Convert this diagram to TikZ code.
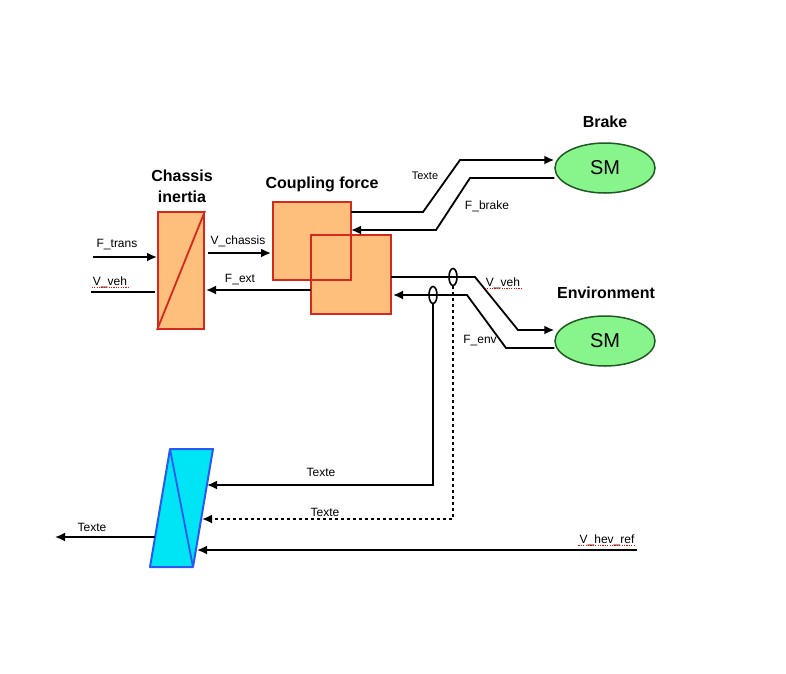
\documentclass[tikz,border=0pt]{standalone}
\usepackage{fontspec}
\setmainfont{Liberation Sans}
\usetikzlibrary{arrows.meta,positioning,shapes.geometric,calc}
\definecolor{blockfill}{HTML}{FDBF7B}
\definecolor{blockred}{HTML}{D42A1E}
\definecolor{smfill}{HTML}{88F58C}
\definecolor{smgreen}{HTML}{1F5A22}
\definecolor{integfill}{HTML}{00E5F5}
\definecolor{integblue}{HTML}{2B57F5}
\tikzset{
  block/.style={draw=blockred, line width=2pt, fill=blockfill, inner sep=0pt},
  smnode/.style={ellipse, draw=smgreen, line width=1.5pt, fill=smfill,
                 minimum width=100pt, minimum height=50pt,
                 font=\fontsize{20}{24}\selectfont},
  title/.style={font=\fontsize{16}{21}\selectfont\bfseries, align=center},
  lbl/.style={font=\fontsize{12}{14}\selectfont, inner sep=1pt},
  wire/.style={line width=1.8pt},
  flow/.style={wire, -{Latex[length=10pt,width=9pt]}},
  tap/.style={ellipse, draw, line width=1.6pt, minimum width=8pt,
              minimum height=17pt, inner sep=0pt},
  spell/.style={draw=red, dash pattern=on 1.2pt off 1.2pt, line width=1.2pt},
}
\begin{document}
\begin{tikzpicture}[x=1pt, y=-1pt]
\useasboundingbox (0,0) rectangle (786,673);

% blocks
\node[block, minimum width=46pt, minimum height=117pt] (chassis) at (181,270.5) {};
\draw[blockred, line width=1.8pt] (chassis.south west) -- (chassis.north east);
\node[title] (chassistitle) at (182,186) {Chassis\\inertia};

\node[block, draw=none, minimum width=76pt, minimum height=76pt] (cf1) at (312,241) {};
\node[block, draw=none, minimum width=78pt, minimum height=77pt] (cf2) at (351,274.5) {};
\draw[blockred, line width=2pt] (cf1.south west) rectangle (cf1.north east);
\draw[blockred, line width=2pt] (cf2.south west) rectangle (cf2.north east);
\node[title] (cftitle) at (322,184) {Coupling force};

\node[smnode] (brake) at (605,168) {SM};
\node[title] (braketitle) at (605,122) {Brake};
\node[smnode] (env) at (605,341) {SM};
\node[title] (envtitle) at (606,293) {Environment};

% integrator
\coordinate (p1) at (170,449);
\coordinate (p2) at (213,449);
\coordinate (p3) at (193,567);
\coordinate (p4) at (150,567);
\draw[integblue, line width=2pt, fill=integfill, line join=round]
  (p1) -- (p2) -- (p3) -- (p4) -- cycle;
\draw[integblue, line width=1.8pt] (p1) -- (p3);

% free ends
\coordinate (ftrans) at (93,257);
\coordinate (vvehin) at (91,292);
\coordinate (in1) at (207,485);
\coordinate (in2) at (202,519);
\coordinate (in3) at (197,550);
\coordinate (hevref) at (637,550);
\coordinate (outl) at (155,537);
\coordinate (outr) at (55,537);

% chassis links
\draw[flow] (ftrans) -- (chassis.west |- ftrans);
\node[lbl] (ftranslbl) at (117,245) {F\_trans};
\draw[wire] (vvehin) -- ([xshift=-2pt]chassis.west |- vvehin);
\node[lbl] (vvehlbl) at (110,282) {V\_veh};
\draw[spell] ([yshift=1pt]vvehlbl.south west) -- ([yshift=1pt]vvehlbl.south east);
\draw[flow] ([xshift=3pt]chassis.east |- 0,253) -- ([xshift=-2pt]cf1.west |- 0,253);
\node[lbl] (vchlbl) at (238,241) {V\_chassis};
\draw[flow] (cf2.west |- 0,290) -- ([xshift=1pt]chassis.east |- 0,290);
\node[lbl] (fextlbl) at (240,280) {F\_ext};

% brake links
\draw[flow] (cf1.east |- 0,212) -- (423,212) -- (460,160) -- (brake.west |- 0,160);
\node[lbl, font=\fontsize{11}{13}\selectfont] (txtbrk) at (425,176) {Texte};
\draw[flow] (brake.west |- 0,178) -- (470,178) -- (436,230) -- (cf1.east |- 0,230);
\node[lbl] (fbrklbl) at (487,206) {F\_brake};

% environment links
\draw[flow] (cf2.east |- 0,277) -- (475,277) -- (518,330) -- (env.west |- 0,330);
\node[lbl] (vveh2lbl) at (503,283) {V\_veh};
\draw[spell] ([yshift=1pt]vveh2lbl.south west) -- ([yshift=1pt]vveh2lbl.south east);
\draw[flow] (env.west |- 0,348) -- (506,348) -- (467,295) -- ([xshift=2pt]cf2.east |- 0,295);
\node[lbl] (fenvlbl) at (480,341) {F\_env};

% taps
\node[tap] (tap1) at (453,277) {};
\node[tap] (tap2) at (433,295) {};
\draw[flow] (tap2.south) -- (tap2.south |- in1) -- (in1);
\node[lbl] (txt1) at (321,472) {Texte};
\draw[flow, dashed] (tap1.south) -- (tap1.south |- in2) -- (in2);
\node[lbl] (txt2) at (325,512) {Texte};

% reference and output
\draw[flow] (hevref) -- (in3);
\node[lbl] (hevlbl) at (607,540) {V\_hev\_ref};
\draw[spell] ([yshift=1pt]hevlbl.south west) -- ([yshift=1pt]hevlbl.south east);
\draw[flow] (outl) -- (outr);
\node[lbl] (txt3) at (92,527) {Texte};
\end{tikzpicture}
\end{document}
